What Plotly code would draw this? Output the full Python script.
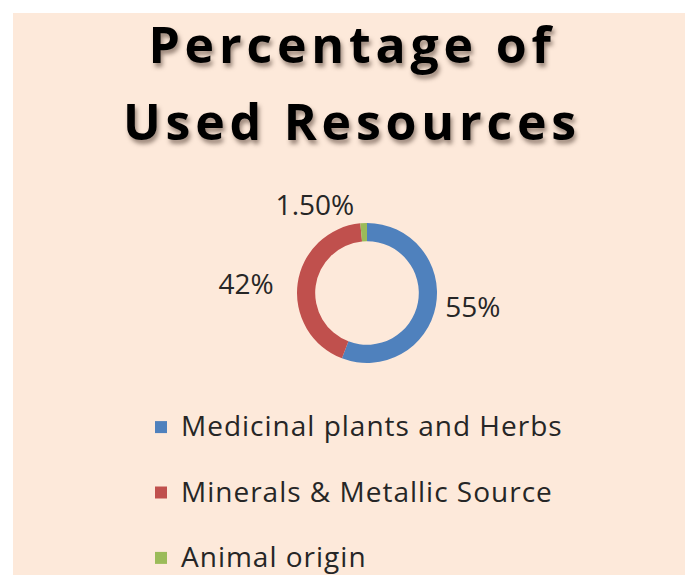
import plotly.graph_objects as go

W, H = 685, 577

categories = ["Medicinal plants and Herbs", "Minerals & Metallic Source", "Animal origin"]
values = [55, 42, 1.5]
value_labels = ["55%", "42%", "1.50%"]
colors = ["#4F81BD", "#C0504D", "#9BBB59"]

title_lines = ["Percentage of", "Used Resources"]
# nominal title font sets the line spacing; spans set the glyph size and spacing
title_text = "<br>".join(
    f"<span style='font-size:50px;letter-spacing:4.8px'>{t}</span>" for t in title_lines
)

# legend labels: bigger glyphs inside a smaller nominal font + blank line for row spacing
legend_labels = [f"<span style='font-size:28px;letter-spacing:1px'>{c}</span><br> " for c in categories]

# slice label texts; the 42% label gets trailing spaces so it sits further from the ring
slice_texts = [value_labels[0], value_labels[1] + "\u00a0\u00a0", value_labels[2]]

cx, cy, r = 367, 293, 70

fig = go.Figure(
    go.Pie(
        labels=legend_labels,
        values=values,
        text=slice_texts,
        textinfo="text",
        textposition="outside",
        hole=0.74,
        sort=False,
        direction="clockwise",
        rotation=0,
        marker=dict(colors=colors, line=dict(width=0)),
        textfont=dict(family="Open Sans", size=28, color="#262626"),
        domain=dict(x=[(cx - r) / W, (cx + r) / W], y=[(H - cy - r) / H, (H - cy + r) / H]),
        showlegend=True,
    )
)

fig.update_layout(
    width=W,
    height=H,
    autosize=False,
    margin=dict(l=0, r=0, t=0, b=0, autoexpand=False),
    paper_bgcolor="white",
    plot_bgcolor="white",
    title=dict(
        text=title_text,
        x=352 / W,
        xanchor="center",
        y=1 - 63 / H,
        yanchor="top",
        yref="container",
        automargin=False,
        font=dict(family="Open Sans", size=59, color="#000000", weight=700,
                  shadow="2px 4px 4px rgba(60,40,30,0.5)"),
    ),
    legend=dict(
        x=141 / W,
        xanchor="left",
        y=1 - 405 / H,
        yanchor="top",
        valign="top",
        maxheight=1000,
        bgcolor="rgba(0,0,0,0)",
        font=dict(family="Open Sans", size=24, color="#262626"),
    ),
    shapes=[
        dict(type="rect", xref="paper", yref="paper", layer="below",
             x0=13 / W, x1=1.0, y0=1 - 575 / H, y1=1 - 13 / H,
             fillcolor="#FDE9DA", line=dict(width=0)),
    ],
)

post = (
    "document.body.style.margin='0px';"
    "document.body.style.overflow='hidden';"
)

fig.write_html("out.html", config={"displayModeBar": False, "responsive": False},
               post_script=post)
